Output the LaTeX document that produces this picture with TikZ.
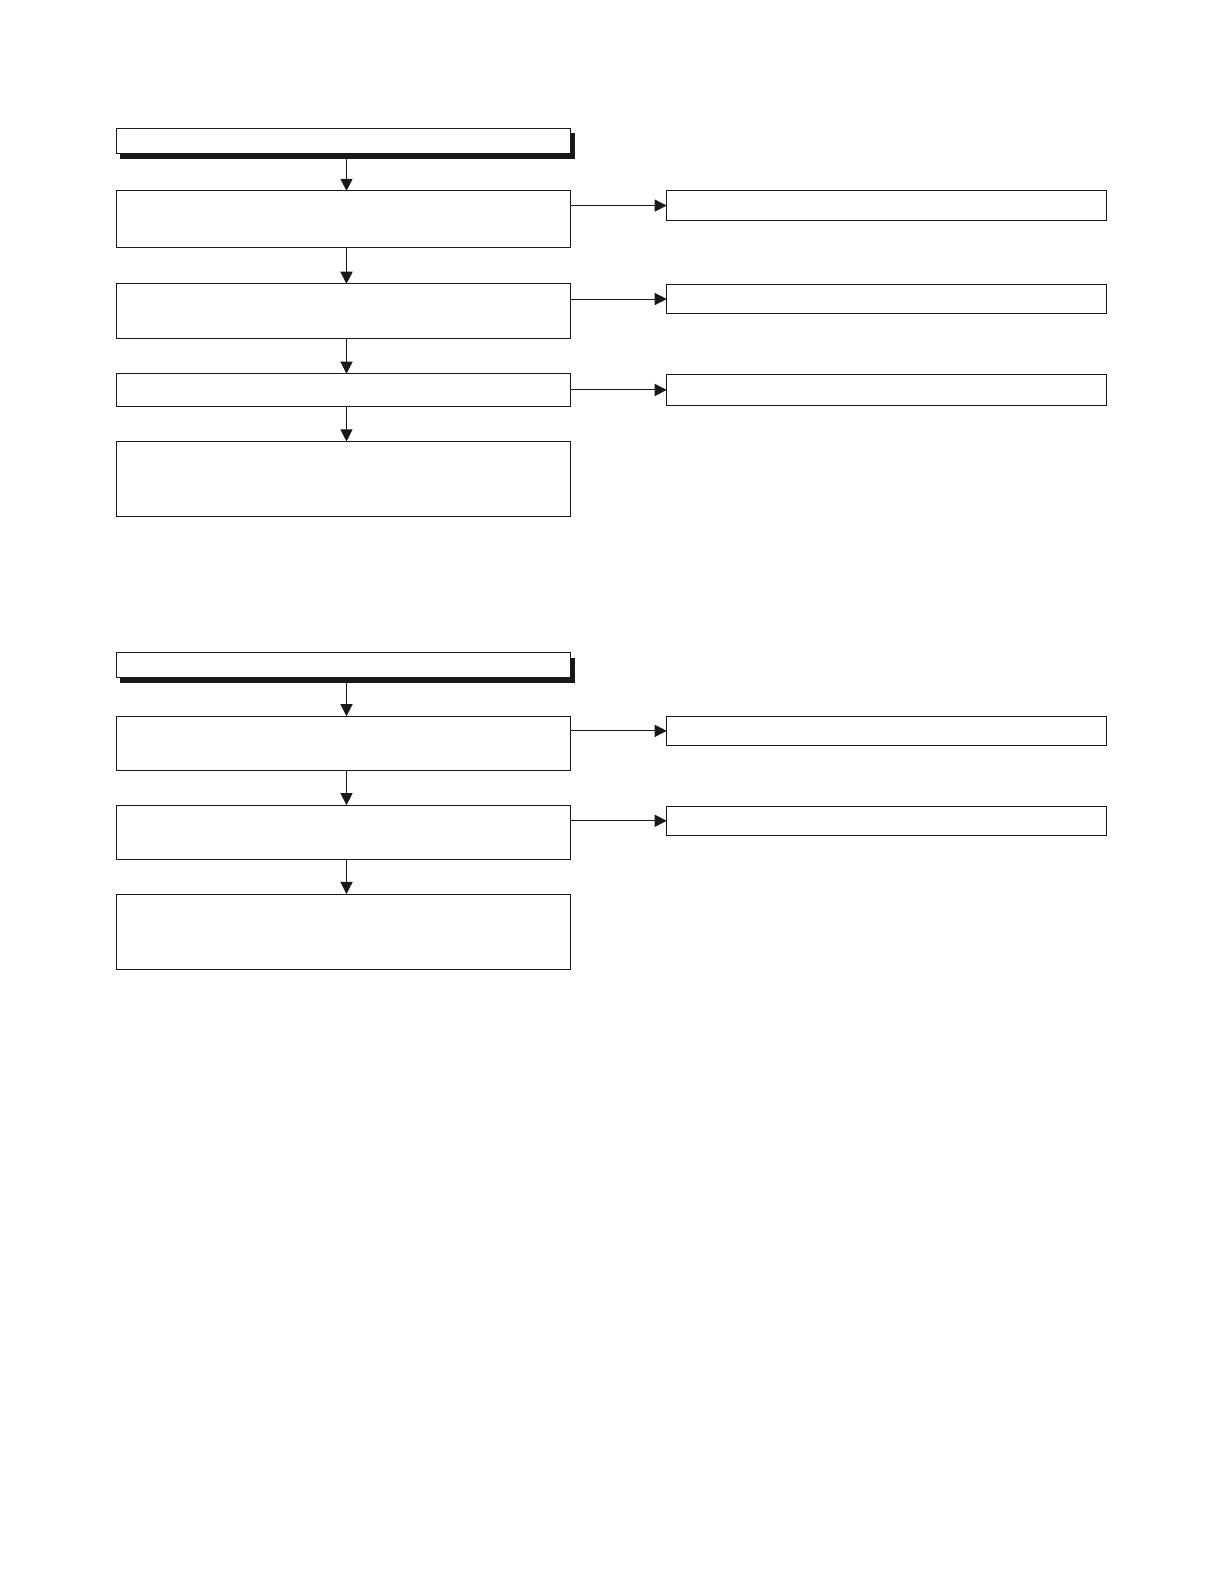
\documentclass[tikz,border=0pt]{standalone}
\usepackage{xcolor}
\usepackage{tikz}
\usetikzlibrary{arrows.meta,shadows}

\begin{document}
\begin{tikzpicture}[x=0.5bp,y=-0.5bp,line width=0.5pt,
  every node/.style={draw=black!90, rectangle, inner sep=0pt, outer sep=0pt, fill=white, anchor=north west, minimum width=225bp},
  hdr/.style={minimum height=12.5bp, drop shadow={shadow xshift=2bp, shadow yshift=-2.5bp, fill=black!90, opacity=1}},
  side/.style={minimum width=217.5bp},
  arr/.style={-{Triangle[length=6bp,width=6bp]}, draw=black!90},
  down/.style={xshift=1.5bp}]
\useasboundingbox (0,0) rectangle (1212,1568);
% First chart
\node[hdr] (h1) at (115,127) {};
\node[minimum height=28bp] (b1) at (115,189) {};
\node[minimum height=27bp] (b2) at (115,281) {};
\node[minimum height=16bp] (b3) at (115,370) {};
\node[minimum height=37bp] (b4) at (115,437) {};
\node[side, minimum height=14.5bp] (r1) at (660,189) {};
\node[side, minimum height=14bp] (r2) at (660,282) {};
\node[side, minimum height=15bp] (r3) at (660,371) {};
% Second chart
\node[hdr] (h2) at (115,646) {};
\node[minimum height=27bp] (c1) at (115,709) {};
\node[minimum height=27bp] (c2) at (115,797) {};
\node[minimum height=37.5bp] (c3) at (115,885) {};
\node[side, minimum height=14.5bp] (s1) at (660,709) {};
\node[side, minimum height=14.5bp] (s2) at (660,798) {};
% Arrows
\draw[arr] ([down]h1.south) -- ([down]b1.north);
\draw[arr] ([down]b1.south) -- ([down]b2.north);
\draw[arr] ([down]b2.south) -- ([down]b3.north);
\draw[arr] ([down]b3.south) -- ([down]b4.north);
\draw[arr] (b1.east |- r1.west) -- (r1.west);
\draw[arr] (b2.east |- r2.west) -- (r2.west);
\draw[arr] (b3.east |- r3.west) -- (r3.west);
\draw[arr] ([down]h2.south) -- ([down]c1.north);
\draw[arr] ([down]c1.south) -- ([down]c2.north);
\draw[arr] ([down]c2.south) -- ([down]c3.north);
\draw[arr] (c1.east |- s1.west) -- (s1.west);
\draw[arr] (c2.east |- s2.west) -- (s2.west);
\end{tikzpicture}
\end{document}
